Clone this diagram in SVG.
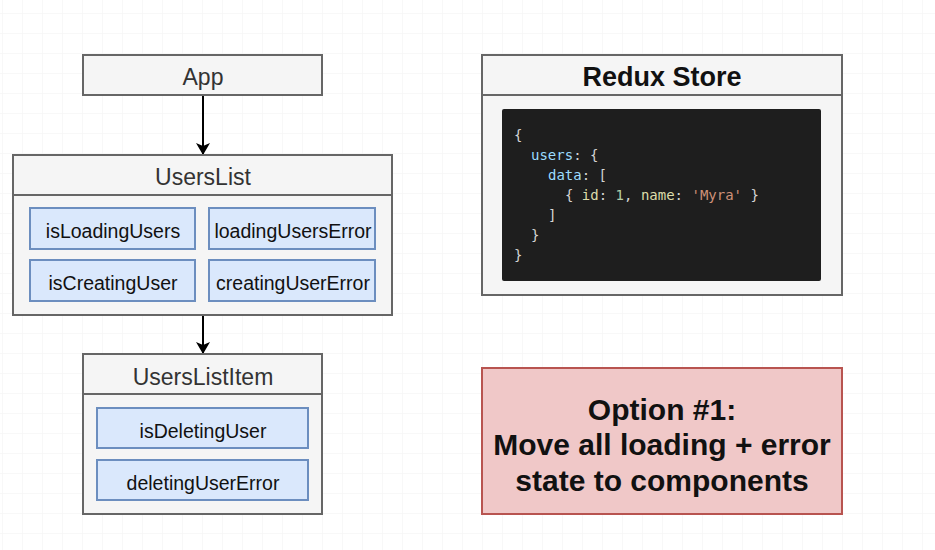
<svg xmlns="http://www.w3.org/2000/svg" width="935" height="550" viewBox="0 0 935 550">
<defs>
<pattern id="grid" x="2" y="13" width="20" height="20" patternUnits="userSpaceOnUse">
<path d="M0 0H20M0 0V20" fill="none" stroke="#f2f2f2" stroke-width="1"/>
</pattern>
<marker id="arr" viewBox="0 0 12 14" refX="11" refY="7" markerWidth="12" markerHeight="14" markerUnits="userSpaceOnUse" orient="auto">
<path d="M0 0L12 7L0 14L3 7Z" fill="#000"/>
</marker>
</defs>
<style>
.box{fill:#f5f5f5;stroke:#666;stroke-width:2}
.sep{stroke:#666;stroke-width:2}
.field{fill:#dae8fc;stroke:#6c8ebf;stroke-width:2}
.hd{font-family:"Liberation Sans",Arial,sans-serif;font-size:23px;fill:#333;text-anchor:middle;dominant-baseline:central}
.fl{font-family:"Liberation Sans",Arial,sans-serif;font-size:19.5px;fill:#111;text-anchor:middle;dominant-baseline:central}
.bold{font-family:"Liberation Sans",Arial,sans-serif;font-weight:bold;fill:#111;text-anchor:middle;dominant-baseline:central}
.code{font-family:"DejaVu Sans Mono","Liberation Mono",monospace;font-size:14px;fill:#d4d4d4}
.k{fill:#9cdcfe}.p{fill:#dcdcaa}.s{fill:#ce9178}.n{fill:#b5cea8}
.edge{stroke:#000;stroke-width:2;fill:none}
</style>
<rect width="935" height="550" fill="#fff"/>
<rect width="935" height="550" fill="url(#grid)"/>

<g id="connectors">
<line class="edge" x1="203" y1="95" x2="203" y2="154" marker-end="url(#arr)"/>
<line class="edge" x1="203" y1="315" x2="203" y2="353" marker-end="url(#arr)"/>
</g>

<g id="app">
<rect class="box" x="83" y="55" width="239" height="40"/>
<text class="hd" x="203" y="77">App</text>
</g>

<g id="userslist">
<rect class="box" x="13" y="155" width="379" height="160"/>
<line class="sep" x1="13" y1="195" x2="392" y2="195"/>
<text class="hd" x="203" y="177">UsersList</text>
<g id="isLoadingUsers"><rect class="field" x="30" y="208" width="165" height="41"/><text class="fl" x="113" y="231">isLoadingUsers</text></g>
<g id="loadingUsersError"><rect class="field" x="209" y="208" width="166" height="41"/><text class="fl" x="293" y="231">loadingUsersError</text></g>
<g id="isCreatingUser"><rect class="field" x="30" y="260" width="165" height="41"/><text class="fl" x="113" y="283">isCreatingUser</text></g>
<g id="creatingUserError"><rect class="field" x="209" y="260" width="166" height="41"/><text class="fl" x="293" y="283">creatingUserError</text></g>
</g>

<g id="userslistitem">
<rect class="box" x="83" y="354" width="239" height="160"/>
<line class="sep" x1="83" y1="394" x2="322" y2="394"/>
<text class="hd" x="203" y="377">UsersListItem</text>
<g id="isDeletingUser"><rect class="field" x="97" y="408" width="211" height="40"/><text class="fl" x="203" y="431">isDeletingUser</text></g>
<g id="deletingUserError"><rect class="field" x="97" y="460" width="211" height="40"/><text class="fl" x="203" y="483">deletingUserError</text></g>
</g>

<g id="reduxstore">
<rect class="box" x="482" y="55" width="360" height="240"/>
<line class="sep" x1="482" y1="95" x2="842" y2="95"/>
<text class="bold" x="662" y="77" font-size="27">Redux Store</text>
<rect x="502" y="109" width="319" height="172" rx="2" fill="#1e1e1e"/>
<text class="code" x="514" y="140">{</text>
<text class="code" x="531" y="160"><tspan class="k">users</tspan>: {</text>
<text class="code" x="548" y="180"><tspan class="k">data</tspan>: [</text>
<text class="code" x="565" y="200">{ <tspan class="p">id</tspan>: <tspan class="n">1</tspan>, <tspan class="p">name</tspan>: <tspan class="s">'Myra'</tspan> }</text>
<text class="code" x="548" y="220">]</text>
<text class="code" x="531" y="240">}</text>
<text class="code" x="514" y="260">}</text>
</g>

<g id="option">
<rect x="482" y="368" width="360" height="146" fill="#f0c8c8" stroke="#b85450" stroke-width="2"/>
<text class="bold" x="662" y="409" font-size="30">Option #1:</text>
<text class="bold" x="662" y="444" font-size="30">Move all loading + error</text>
<text class="bold" x="662" y="480" font-size="30">state to components</text>
</g>
</svg>
